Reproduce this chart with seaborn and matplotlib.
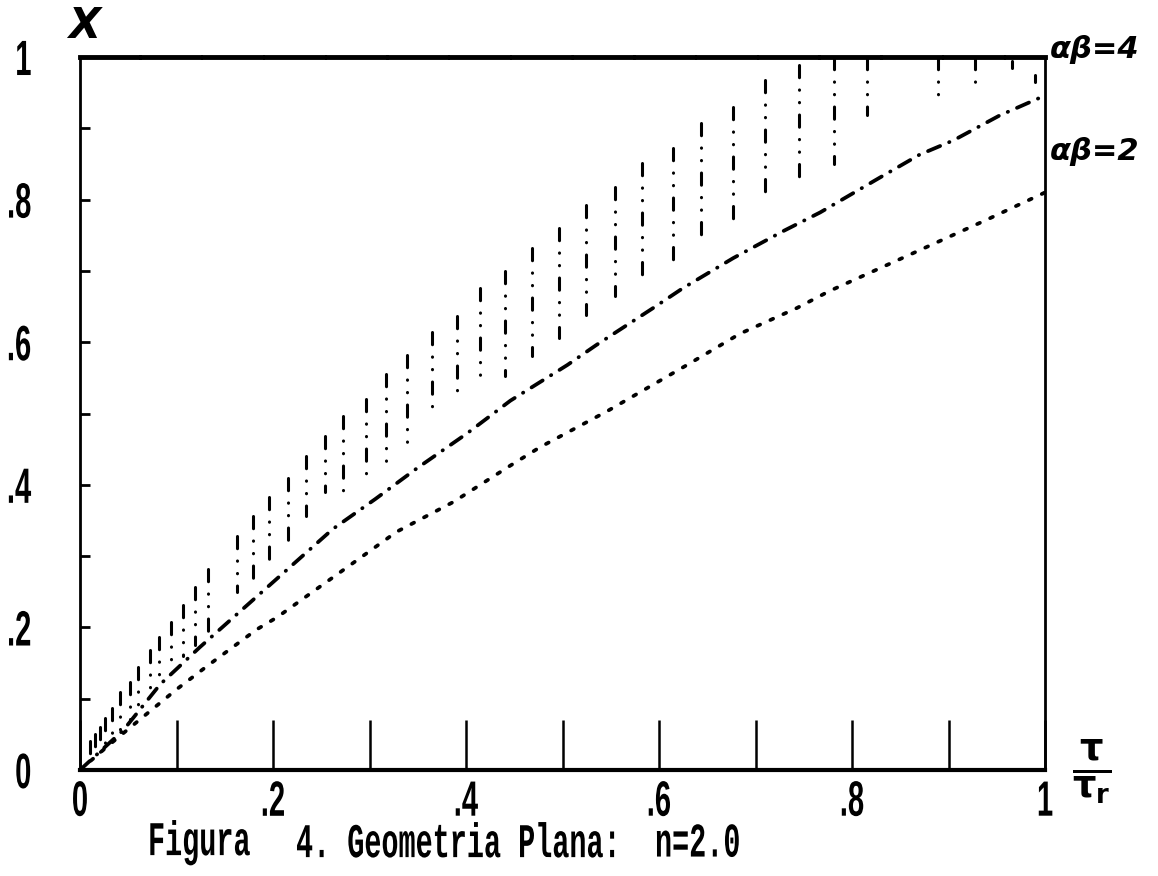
import matplotlib
matplotlib.use("Agg")
import matplotlib.pyplot as plt
from matplotlib import font_manager
from matplotlib.patheffects import AbstractPathEffect
from matplotlib.transforms import Affine2D
import pandas as pd
import seaborn as sns

# Conversion curve for alpha*beta = 2
ab2_x = [0, 0.03, 0.064, 0.1, 0.131, 0.183, 0.204, 0.293, 0.328, 0.387, 0.446, 0.477,
         0.546, 0.629, 0.684, 0.743, 0.777, 0.857, 0.94, 1.0]
ab2_y = [0, 0.035, 0.073, 0.113, 0.145, 0.197, 0.214, 0.30, 0.334, 0.376, 0.427, 0.453,
         0.503, 0.568, 0.612, 0.648, 0.672, 0.721, 0.772, 0.81]

# Conversion curve for alpha*beta = 4
ab4_x = [0, 0.045, 0.083, 0.124, 0.262, 0.306, 0.349, 0.401, 0.446, 0.505, 0.535, 0.594,
         0.625, 0.677, 0.729, 0.767, 0.829, 0.870, 0.905, 0.953, 1.0]
ab4_y = [0, 0.056, 0.12, 0.172, 0.338, 0.38, 0.423, 0.472, 0.518, 0.568, 0.596, 0.648,
         0.676, 0.718, 0.756, 0.782, 0.831, 0.863, 0.883, 0.918, 0.946]

# Vertical hatch lines of the upper band
hatch_x = [0.010, 0.016, 0.021, 0.026, 0.033, 0.041, 0.052, 0.060, 0.073, 0.082, 0.094,
           0.107, 0.119, 0.133, 0.163, 0.179, 0.196, 0.216, 0.234, 0.254, 0.273, 0.296,
           0.317, 0.339, 0.365, 0.391, 0.415, 0.440, 0.468, 0.496, 0.524, 0.554, 0.582,
           0.615, 0.644, 0.677, 0.710, 0.745, 0.781, 0.816, 0.889, 0.927, 0.966, 0.990]
hatch_top = [0.04, 0.05, 0.06, 0.073, 0.087, 0.11, 0.124, 0.145, 0.169, 0.186, 0.208,
             0.231, 0.256, 0.282, 0.328, 0.356, 0.383, 0.41, 0.44, 0.468, 0.496, 0.521,
             0.556, 0.582, 0.615, 0.637, 0.676, 0.70, 0.732, 0.76, 0.793, 0.817, 0.852,
             0.873, 0.908, 0.93, 0.968, 0.989, 1.0, 1.0, 1.0, 1.0, 0.995, 0.975]
hatch_bottom = [0.018, 0.021, 0.025, 0.03, 0.039, 0.052, 0.07, 0.09, 0.11, 0.122, 0.14,
                0.16, 0.175, 0.186, 0.25, 0.268, 0.292, 0.317, 0.356, 0.39, 0.385, 0.41,
                0.427, 0.453, 0.504, 0.53, 0.553, 0.553, 0.58, 0.606, 0.638, 0.665, 0.69,
                0.715, 0.742, 0.77, 0.80, 0.827, 0.85, 0.918, 0.934, 0.96, 0.985, 0.965]

x_ticks = [0, 0.1, 0.2, 0.3, 0.4, 0.5, 0.6, 0.7, 0.8, 0.9, 1.0]
x_ticklabels = ["0", "", ".2", "", ".4", "", ".6", "", ".8", "", "1"]
y_ticks = [0, 0.1, 0.2, 0.3, 0.4, 0.5, 0.6, 0.7, 0.8, 0.9, 1.0]
y_ticklabels = ["0", "", ".2", "", ".4", "", ".6", "", ".8", "", "1"]

caption_parts = ["Figura", "4. Geometria Plana:", "n=2.0"]
curve_labels = ["\u03b1\u03b2=4", "\u03b1\u03b2=2"]


class Stretch(AbstractPathEffect):
    """Draw a text path stretched vertically about its own middle, giving tall
    narrow printer-style glyphs."""

    def __init__(self, sy):
        super().__init__()
        self.sy = sy

    def draw_path(self, renderer, gc, tpath, affine, rgbFace=None):
        ext = tpath.get_extents()
        cy = 0.5 * (ext.y0 + ext.y1)
        t = Affine2D().translate(0, -cy).scale(1.0, self.sy).translate(0, cy) + affine
        renderer.draw_path(gc, tpath, t, rgbFace)


sns.set_theme(style="white")
names = {f.name for f in font_manager.fontManager.ttflist}
tick_font = "Liberation Sans" if "Liberation Sans" in names else "DejaVu Sans"
caption_font = "Liberation Mono" if "Liberation Mono" in names else "DejaVu Sans Mono"
plt.rcParams["font.family"] = ["DejaVu Sans"]
plt.rcParams["mathtext.fontset"] = "dejavusans"

W, H = 1158, 876
fig = plt.figure(figsize=(W / 100, H / 100), dpi=100)
fig.patch.set_facecolor("white")
ax = fig.add_axes([80 / W, (H - 770) / H, 965 / W, 713 / H])
ax.set_facecolor("white")

df2 = pd.DataFrame({"x": ab2_x, "y": ab2_y})
df4 = pd.DataFrame({"x": ab4_x, "y": ab4_y})

sns.lineplot(data=df2, x="x", y="y", ax=ax, color="black", lw=2.7,
             linestyle=(0, (0.8, 3.0)), dash_capstyle="round")
sns.lineplot(data=df4, x="x", y="y", ax=ax, color="black", lw=2.7,
             linestyle=(0, (3.5, 2.6, 0.1, 2.6)), dash_capstyle="round")

# hatch lines run from the top down so each one starts with its dash
ax.vlines(hatch_x, hatch_top, hatch_bottom, colors="black", linewidth=2.2,
          linestyles=[(0, (4.0, 4.0, 0.1, 4.0, 0.1, 4.0))], capstyle="round")

ax.set_xlim(0, 1)
ax.set_ylim(0, 1)
ax.set_xlabel("")
ax.set_ylabel("")

for side in ["left", "right", "bottom", "top"]:
    ax.spines[side].set_visible(True)
    ax.spines[side].set_color("black")
ax.spines["left"].set_linewidth(2.0)
ax.spines["right"].set_linewidth(2.0)
ax.spines["bottom"].set_linewidth(3.0)
ax.spines["top"].set_linewidth(3.5)
ax.spines["top"].set_linestyle((0, (12, 0.7)))

ax.set_xticks(x_ticks)
ax.set_xticklabels(x_ticklabels)
ax.set_yticks(y_ticks)
ax.set_yticklabels(y_ticklabels)
ax.tick_params(axis="x", direction="in", length=36, width=1.8, color="black",
               pad=12, bottom=True, top=False)
ax.tick_params(axis="y", direction="in", length=7, width=2.0, color="black",
               pad=35, left=True, right=False)
for lab in ax.get_xticklabels() + ax.get_yticklabels():
    lab.set_fontfamily(tick_font)
    lab.set_fontweight("bold")
    lab.set_fontsize(21)
    lab.set_color("black")
    lab.set_path_effects([Stretch(1.7)])

fig.text(84 / W, 1 - 26 / H, "X", fontsize=30, fontweight="bold", fontstyle="italic",
         ha="center", va="center", color="black")
fig.text(1050 / W, 1 - 50 / H, curve_labels[0], fontsize=22, fontweight="bold",
         fontstyle="italic", ha="left", va="center", color="black")
fig.text(1050 / W, 1 - 152 / H, curve_labels[1], fontsize=22, fontweight="bold",
         fontstyle="italic", ha="left", va="center", color="black")
fig.text(1092 / W, 1 - 772 / H, r"$\mathbf{\frac{\tau}{\tau_r}}$", fontsize=38,
         ha="center", va="center", color="black")

caption_x = [148, 296, 655]
for px, part in zip(caption_x, caption_parts):
    fig.text(px / W, 1 - 843 / H, part, family=caption_font, fontweight="bold",
             fontsize=20.5, ha="left", va="center", color="black",
             path_effects=[Stretch(1.7)])

fig.savefig("out.png", dpi=100, facecolor="white")
